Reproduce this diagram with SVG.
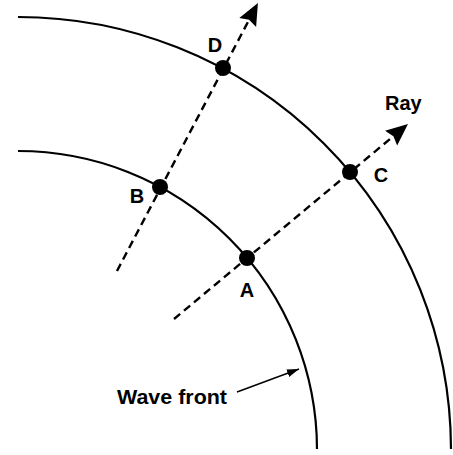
<svg xmlns="http://www.w3.org/2000/svg" width="453" height="455" viewBox="0 0 453 455">
  <style>
    .front { fill: none; stroke: #000; stroke-width: 2.2; }
    .ray { fill: none; stroke: #000; stroke-width: 2.4; stroke-dasharray: 8 5; }
    .dot { fill: #000; }
    .lbl { font-family: "Liberation Sans", Arial, sans-serif; font-weight: bold; font-size: 20px; fill: #000; }
    .ptr { fill: none; stroke: #000; stroke-width: 1.5; }
  </style>
  <defs>
    <marker id="rayhead" markerUnits="userSpaceOnUse" markerWidth="26" markerHeight="22" viewBox="0 -11 26 22" refX="3" refY="0" orient="auto">
      <path d="M0,-9.5 L22,0 L0,9.5 L3,0 z" fill="#000"/>
    </marker>
    <marker id="ptrhead" markerUnits="userSpaceOnUse" markerWidth="14" markerHeight="10" viewBox="0 -5 14 10" refX="12" refY="0" orient="auto">
      <path d="M0,-4 L12,0 L0,4 z" fill="#000"/>
    </marker>
  </defs>
  <g id="wavefronts">
    <path id="inner-front" class="front" d="M18,151 A299,299 0 0 1 317,449"/>
    <path id="outer-front" class="front" d="M18,17 A433,433 0 0 1 451,449"/>
  </g>
  <g id="connectors">
    <line id="ray-AC" class="ray" x1="174" y1="319" x2="393.4" y2="136.2" marker-end="url(#rayhead)"/>
    <line id="ray-BD" class="ray" x1="117" y1="271" x2="249.1" y2="19.8" marker-end="url(#rayhead)"/>
    <line id="wave-front-pointer" class="ptr" x1="237" y1="392" x2="299" y2="369" marker-end="url(#ptrhead)"/>
  </g>
  <g id="node-D">
    <circle class="dot" cx="223" cy="68" r="8"/>
    <text class="lbl" x="215" y="52" text-anchor="middle">D</text>
  </g>
  <g id="node-C">
    <circle class="dot" cx="350" cy="172" r="8"/>
    <text class="lbl" x="381" y="182" text-anchor="middle">C</text>
  </g>
  <g id="node-B">
    <circle class="dot" cx="160" cy="187" r="8"/>
    <text class="lbl" x="137" y="203" text-anchor="middle">B</text>
  </g>
  <g id="node-A">
    <circle class="dot" cx="247" cy="258" r="8"/>
    <text class="lbl" x="247" y="297" text-anchor="middle">A</text>
  </g>
  <g id="label-ray">
    <text class="lbl" x="385" y="110">Ray</text>
  </g>
  <g id="label-wave-front">
    <text class="lbl" x="117" y="404" textLength="110" lengthAdjust="spacingAndGlyphs">Wave front</text>
  </g>
</svg>
